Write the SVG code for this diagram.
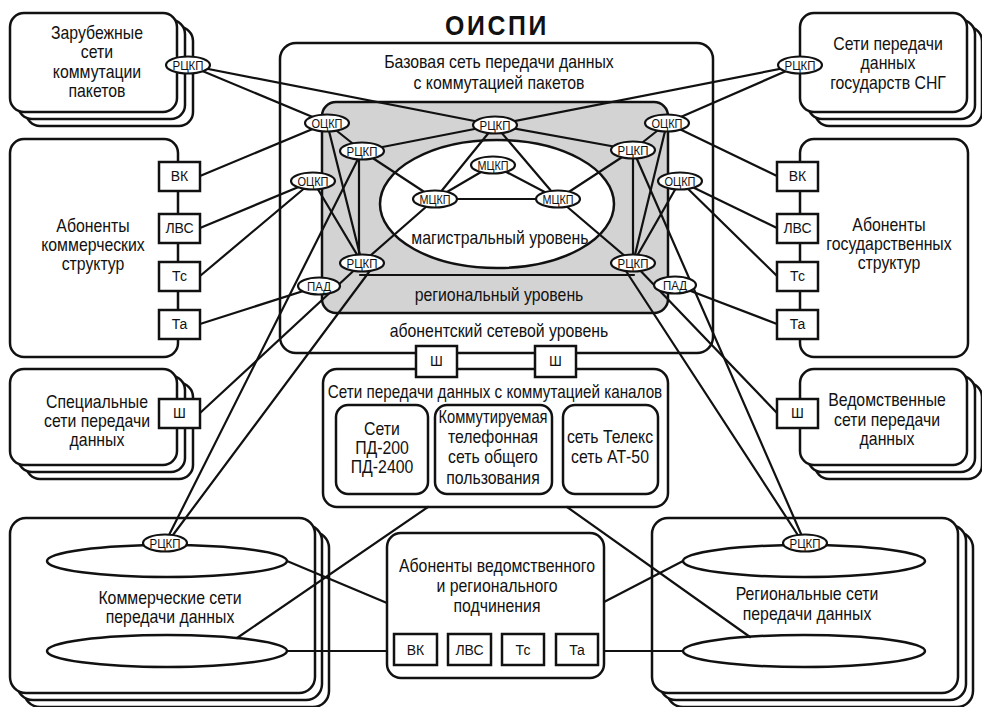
<svg xmlns="http://www.w3.org/2000/svg" width="982" height="707" viewBox="0 0 982 707">
  <style>
    .box { fill: #fff; stroke: #111; stroke-width: 2.5; }
    .gray { fill: #d3d3d3; stroke: #111; stroke-width: 2.5; }
    .sq { fill: #fff; stroke: #111; stroke-width: 2.5; }
    .nd { fill: #fff; stroke: #111; stroke-width: 2.2; }
    .ln { stroke: #111; stroke-width: 2.2; fill: none; stroke-linecap: round; }
    text { font-family: "Liberation Sans", Arial, sans-serif; fill: #111; text-anchor: middle; }
    .t { font-size: 18px; }
    .s { font-size: 14px; }
    .n { font-size: 13.5px; }
    .title { font-size: 28px; font-weight: bold; letter-spacing: 3px; }
  </style>

  <rect width="982" height="707" fill="#fff"/>

  <text class="title" x="497" y="35" textLength="104" lengthAdjust="spacingAndGlyphs">ОИСПИ</text>

  <!-- stacked external networks -->
  <g id="foreign-nets">
    <rect class="box" x="26" y="27" width="167" height="99" rx="14"/>
    <rect class="box" x="18" y="20" width="167" height="99" rx="14"/>
    <rect class="box" x="10" y="13" width="167" height="99" rx="14"/>
    <g transform="translate(97 0) scale(0.88 1)">
      <text class="t" x="0" y="39">Зарубежные</text>
      <text class="t" x="0" y="58">сети</text>
      <text class="t" x="0" y="78">коммутации</text>
      <text class="t" x="0" y="97">пакетов</text>
    </g>
  </g>

  <g id="cis-nets">
    <rect class="box" x="815" y="27" width="167" height="99" rx="14"/>
    <rect class="box" x="808" y="20" width="167" height="99" rx="14"/>
    <rect class="box" x="800" y="13" width="167" height="99" rx="14"/>
    <g transform="translate(888 0) scale(0.88 1)">
      <text class="t" x="0" y="50">Сети передачи</text>
      <text class="t" x="0" y="69">данных</text>
      <text class="t" x="0" y="89">государств СНГ</text>
    </g>
  </g>

  <g id="commercial-subscribers">
    <rect class="box" x="10" y="139" width="168" height="218" rx="14"/>
    <g transform="translate(93 0) scale(0.88 1)">
      <text class="t" x="0" y="232">Абоненты</text>
      <text class="t" x="0" y="251">коммерческих</text>
      <text class="t" x="0" y="270">структур</text>
    </g>
  </g>

  <g id="state-subscribers">
    <rect class="box" x="800" y="139" width="168" height="218" rx="14"/>
    <g transform="translate(889 0) scale(0.88 1)">
      <text class="t" x="0" y="231">Абоненты</text>
      <text class="t" x="0" y="250">государственных</text>
      <text class="t" x="0" y="269">структур</text>
    </g>
  </g>

  <g id="special-nets">
    <rect class="box" x="26" y="383" width="167" height="96" rx="14"/>
    <rect class="box" x="18" y="376" width="167" height="96" rx="14"/>
    <rect class="box" x="10" y="369" width="167" height="96" rx="14"/>
    <g transform="translate(97 0) scale(0.88 1)">
      <text class="t" x="0" y="408">Специальные</text>
      <text class="t" x="0" y="427">сети передачи</text>
      <text class="t" x="0" y="446">данных</text>
    </g>
  </g>

  <g id="departmental-nets">
    <rect class="box" x="815" y="383" width="167" height="96" rx="14"/>
    <rect class="box" x="808" y="376" width="167" height="96" rx="14"/>
    <rect class="box" x="800" y="369" width="167" height="96" rx="14"/>
    <g transform="translate(887 0) scale(0.88 1)">
      <text class="t" x="0" y="406">Ведомственные</text>
      <text class="t" x="0" y="426">сети передачи</text>
      <text class="t" x="0" y="445">данных</text>
    </g>
  </g>

  <g id="commercial-nets">
    <rect class="box" x="24" y="532" width="305" height="175" rx="16"/>
    <rect class="box" x="17" y="525" width="305" height="175" rx="16"/>
    <rect class="box" x="10" y="518" width="305" height="175" rx="16"/>
    <ellipse class="box" cx="167" cy="561" rx="120" ry="16"/>
    <ellipse class="box" cx="167" cy="651" rx="120" ry="16"/>
    <g transform="translate(170 0) scale(0.88 1)">
      <text class="t" x="0" y="604">Коммерческие сети</text>
      <text class="t" x="0" y="623">передачи данных</text>
    </g>
  </g>

  <g id="regional-nets">
    <rect class="box" x="667" y="532" width="306" height="175" rx="16"/>
    <rect class="box" x="660" y="525" width="306" height="175" rx="16"/>
    <rect class="box" x="652" y="518" width="306" height="175" rx="16"/>
    <ellipse class="box" cx="804" cy="561" rx="121" ry="16"/>
    <ellipse class="box" cx="804" cy="651" rx="121" ry="16"/>
    <g transform="translate(807 0) scale(0.88 1)">
      <text class="t" x="0" y="600">Региональные сети</text>
      <text class="t" x="0" y="620">передачи данных</text>
    </g>
  </g>

  <!-- packet-switched base network with its levels -->
  <g id="base-network">
    <rect class="box" x="280" y="43" width="433" height="310" rx="16"/>
    <rect class="gray" x="322" y="102" width="346" height="211" rx="14"/>
    <ellipse class="box" cx="497" cy="204" rx="117" ry="64"/>
    <g transform="translate(499 0) scale(0.88 1)">
      <text class="t" x="0" y="68">Базовая сеть передачи данных</text>
      <text class="t" x="0" y="89">с коммутацией пакетов</text>
      <text class="t" x="1" y="244">магистральный уровень</text>
      <text class="t" x="0" y="301">региональный уровень</text>
      <text class="t" x="0" y="337">абонентский сетевой уровень</text>
    </g>
  </g>

  <g id="circuit-nets">
    <rect class="box" x="323" y="369" width="345" height="138" rx="14"/>
    <rect class="box" x="336" y="405" width="92" height="89" rx="12"/>
    <rect class="box" x="435" y="405" width="117" height="89" rx="12"/>
    <rect class="box" x="563" y="405" width="95" height="89" rx="12"/>
    <g transform="translate(495 0) scale(0.88 1)">
      <text class="t" x="0" y="398" textLength="380" lengthAdjust="spacingAndGlyphs">Сети передачи данных с коммутацией каналов</text>
    </g>
    <g transform="translate(382 0) scale(0.88 1)">
      <text class="t" x="0" y="435">Сети</text>
      <text class="t" x="0" y="454">ПД-200</text>
      <text class="t" x="0" y="473">ПД-2400</text>
    </g>
    <g transform="translate(493 0) scale(0.88 1)">
      <text class="t" x="0" y="423" textLength="124" lengthAdjust="spacingAndGlyphs">Коммутируемая</text>
      <text class="t" x="0" y="443">телефонная</text>
      <text class="t" x="0" y="463">сеть общего</text>
      <text class="t" x="0" y="484">пользования</text>
    </g>
    <g transform="translate(610 0) scale(0.88 1)">
      <text class="t" x="0" y="443">сеть Телекс</text>
      <text class="t" x="0" y="463">сеть АТ-50</text>
    </g>
  </g>

  <g id="local-subscribers">
    <rect class="box" x="387" y="533" width="217" height="145" rx="14"/>
    <g transform="translate(497 0) scale(0.88 1)">
      <text class="t" x="0" y="572">Абоненты ведомственного</text>
      <text class="t" x="0" y="592">и регионального</text>
      <text class="t" x="0" y="612">подчинения</text>
    </g>
  </g>

  <!-- links -->
  <g id="connectors">
    <line class="ln" x1="188" y1="65" x2="495" y2="125"/>
    <line class="ln" x1="188" y1="65" x2="327" y2="123"/>
    <line class="ln" x1="800" y1="65" x2="495" y2="125"/>
    <line class="ln" x1="800" y1="65" x2="667" y2="123"/>
    <line class="ln" x1="327" y1="123" x2="200" y2="176"/>
    <line class="ln" x1="313" y1="181" x2="200" y2="228"/>
    <line class="ln" x1="313" y1="181" x2="200" y2="276"/>
    <line class="ln" x1="319" y1="286" x2="200" y2="324"/>
    <line class="ln" x1="667" y1="123" x2="777" y2="176"/>
    <line class="ln" x1="680" y1="181" x2="777" y2="228"/>
    <line class="ln" x1="680" y1="181" x2="777" y2="276"/>
    <line class="ln" x1="675" y1="285" x2="777" y2="324"/>
    <line class="ln" x1="495" y1="125" x2="362" y2="151"/>
    <line class="ln" x1="495" y1="125" x2="633" y2="150"/>
    <line class="ln" x1="495" y1="125" x2="435" y2="199"/>
    <line class="ln" x1="495" y1="125" x2="558" y2="199"/>
    <line class="ln" x1="493" y1="165" x2="435" y2="199"/>
    <line class="ln" x1="493" y1="165" x2="558" y2="199"/>
    <line class="ln" x1="435" y1="199" x2="558" y2="199"/>
    <line class="ln" x1="327" y1="123" x2="362" y2="151"/>
    <line class="ln" x1="327" y1="123" x2="362" y2="263"/>
    <line class="ln" x1="359" y1="151" x2="359" y2="263"/>
    <line class="ln" x1="362" y1="151" x2="435" y2="199"/>
    <line class="ln" x1="313" y1="181" x2="362" y2="263"/>
    <line class="ln" x1="362" y1="263" x2="435" y2="199"/>
    <line class="ln" x1="372" y1="268" x2="167" y2="543"/>
    <line class="ln" x1="362" y1="263" x2="200" y2="413"/>
    <line class="ln" x1="362" y1="151" x2="165" y2="543"/>
    <line class="ln" x1="633" y1="150" x2="633" y2="263"/>
    <line class="ln" x1="667" y1="123" x2="633" y2="150"/>
    <line class="ln" x1="667" y1="123" x2="633" y2="263"/>
    <line class="ln" x1="680" y1="181" x2="633" y2="263"/>
    <line class="ln" x1="633" y1="150" x2="558" y2="199"/>
    <line class="ln" x1="633" y1="263" x2="558" y2="199"/>
    <line class="ln" x1="624" y1="268" x2="803" y2="543"/>
    <line class="ln" x1="633" y1="263" x2="777" y2="413"/>
    <line class="ln" x1="633" y1="150" x2="805" y2="543"/>
    <line class="ln" x1="360" y1="275" x2="634" y2="275"/>
    <line class="ln" x1="428" y1="507" x2="237" y2="638"/>
    <line class="ln" x1="567" y1="507" x2="750" y2="637"/>
    <line class="ln" x1="287" y1="561" x2="387" y2="603"/>
    <line class="ln" x1="287" y1="651" x2="387" y2="651"/>
    <line class="ln" x1="683" y1="561" x2="604" y2="602"/>
    <line class="ln" x1="683" y1="651" x2="604" y2="651"/>
  </g>

  <!-- terminal equipment boxes -->
  <g id="left-terminals">
    <rect class="sq" x="159" y="162" width="41" height="29"/>
    <text class="s" x="179.5" y="181">ВК</text>
    <rect class="sq" x="159" y="214" width="41" height="29"/>
    <text class="s" x="179.5" y="233">ЛВС</text>
    <rect class="sq" x="159" y="262" width="41" height="29"/>
    <text class="s" x="179.5" y="281">Тс</text>
    <rect class="sq" x="159" y="310" width="41" height="29"/>
    <text class="s" x="179.5" y="329">Та</text>
  </g>
  <g id="right-terminals">
    <rect class="sq" x="777" y="162" width="41" height="29"/>
    <text class="s" x="797.5" y="181">ВК</text>
    <rect class="sq" x="777" y="214" width="41" height="29"/>
    <text class="s" x="797.5" y="233">ЛВС</text>
    <rect class="sq" x="777" y="262" width="41" height="29"/>
    <text class="s" x="797.5" y="281">Тс</text>
    <rect class="sq" x="777" y="310" width="41" height="29"/>
    <text class="s" x="797.5" y="329">Та</text>
  </g>
  <g id="gateways">
    <rect class="sq" x="159" y="399" width="41" height="29"/>
    <text class="s" x="179.5" y="418">Ш</text>
    <rect class="sq" x="777" y="399" width="41" height="29"/>
    <text class="s" x="797.5" y="418">Ш</text>
    <rect class="sq" x="416" y="346" width="41" height="31"/>
    <text class="s" x="436.5" y="366">Ш</text>
    <rect class="sq" x="535" y="346" width="41" height="31"/>
    <text class="s" x="555.5" y="366">Ш</text>
  </g>
  <g id="bottom-terminals">
    <rect class="sq" x="394" y="634" width="43" height="31"/>
    <text class="s" x="415.5" y="655">ВК</text>
    <rect class="sq" x="448" y="634" width="43" height="31"/>
    <text class="s" x="469.5" y="655">ЛВС</text>
    <rect class="sq" x="502" y="634" width="42" height="31"/>
    <text class="s" x="523" y="655">Тс</text>
    <rect class="sq" x="556" y="634" width="42" height="31"/>
    <text class="s" x="577" y="655">Та</text>
  </g>

  <!-- switching centres -->
  <g id="rckp-foreign"><ellipse class="nd" cx="188" cy="65" rx="22" ry="8.5"/><text class="n" x="188" y="70" textLength="31" lengthAdjust="spacingAndGlyphs">РЦКП</text></g>
  <g id="rckp-cis"><ellipse class="nd" cx="800" cy="65" rx="22" ry="8.5"/><text class="n" x="800" y="70" textLength="31" lengthAdjust="spacingAndGlyphs">РЦКП</text></g>
  <g id="rckp-top"><ellipse class="nd" cx="495" cy="125" rx="22" ry="8.5"/><text class="n" x="495" y="130" textLength="31" lengthAdjust="spacingAndGlyphs">РЦКП</text></g>
  <g id="ockp-l1"><ellipse class="nd" cx="327" cy="123" rx="22" ry="8.5"/><text class="n" x="327" y="128" textLength="31" lengthAdjust="spacingAndGlyphs">ОЦКП</text></g>
  <g id="ockp-l2"><ellipse class="nd" cx="313" cy="181" rx="22" ry="8.5"/><text class="n" x="313" y="186" textLength="31" lengthAdjust="spacingAndGlyphs">ОЦКП</text></g>
  <g id="rckp-l1"><ellipse class="nd" cx="362" cy="151" rx="22" ry="8.5"/><text class="n" x="362" y="156" textLength="31" lengthAdjust="spacingAndGlyphs">РЦКП</text></g>
  <g id="rckp-l2"><ellipse class="nd" cx="362" cy="263" rx="22" ry="8.5"/><text class="n" x="362" y="268" textLength="31" lengthAdjust="spacingAndGlyphs">РЦКП</text></g>
  <g id="pad-l"><ellipse class="nd" cx="319" cy="286" rx="21" ry="8.5"/><text class="n" x="319" y="291" textLength="24" lengthAdjust="spacingAndGlyphs">ПАД</text></g>
  <g id="mckp-top"><ellipse class="nd" cx="493" cy="165" rx="22" ry="8.5"/><text class="n" x="493" y="170" textLength="31" lengthAdjust="spacingAndGlyphs">МЦКП</text></g>
  <g id="mckp-l"><ellipse class="nd" cx="435" cy="199" rx="22" ry="8.5"/><text class="n" x="435" y="204" textLength="31" lengthAdjust="spacingAndGlyphs">МЦКП</text></g>
  <g id="mckp-r"><ellipse class="nd" cx="558" cy="199" rx="22" ry="8.5"/><text class="n" x="558" y="204" textLength="31" lengthAdjust="spacingAndGlyphs">МЦКП</text></g>
  <g id="ockp-r1"><ellipse class="nd" cx="667" cy="123" rx="22" ry="8.5"/><text class="n" x="667" y="128" textLength="31" lengthAdjust="spacingAndGlyphs">ОЦКП</text></g>
  <g id="ockp-r2"><ellipse class="nd" cx="680" cy="181" rx="22" ry="8.5"/><text class="n" x="680" y="186" textLength="31" lengthAdjust="spacingAndGlyphs">ОЦКП</text></g>
  <g id="rckp-r1"><ellipse class="nd" cx="633" cy="150" rx="22" ry="8.5"/><text class="n" x="633" y="155" textLength="31" lengthAdjust="spacingAndGlyphs">РЦКП</text></g>
  <g id="rckp-r2"><ellipse class="nd" cx="633" cy="263" rx="22" ry="8.5"/><text class="n" x="633" y="268" textLength="31" lengthAdjust="spacingAndGlyphs">РЦКП</text></g>
  <g id="pad-r"><ellipse class="nd" cx="675" cy="285" rx="21" ry="8.5"/><text class="n" x="675" y="290" textLength="24" lengthAdjust="spacingAndGlyphs">ПАД</text></g>
  <g id="rckp-commercial"><ellipse class="nd" cx="165" cy="543" rx="22" ry="8.5"/><text class="n" x="165" y="548" textLength="31" lengthAdjust="spacingAndGlyphs">РЦКП</text></g>
  <g id="rckp-regional"><ellipse class="nd" cx="805" cy="543" rx="22" ry="8.5"/><text class="n" x="805" y="548" textLength="31" lengthAdjust="spacingAndGlyphs">РЦКП</text></g>
</svg>
